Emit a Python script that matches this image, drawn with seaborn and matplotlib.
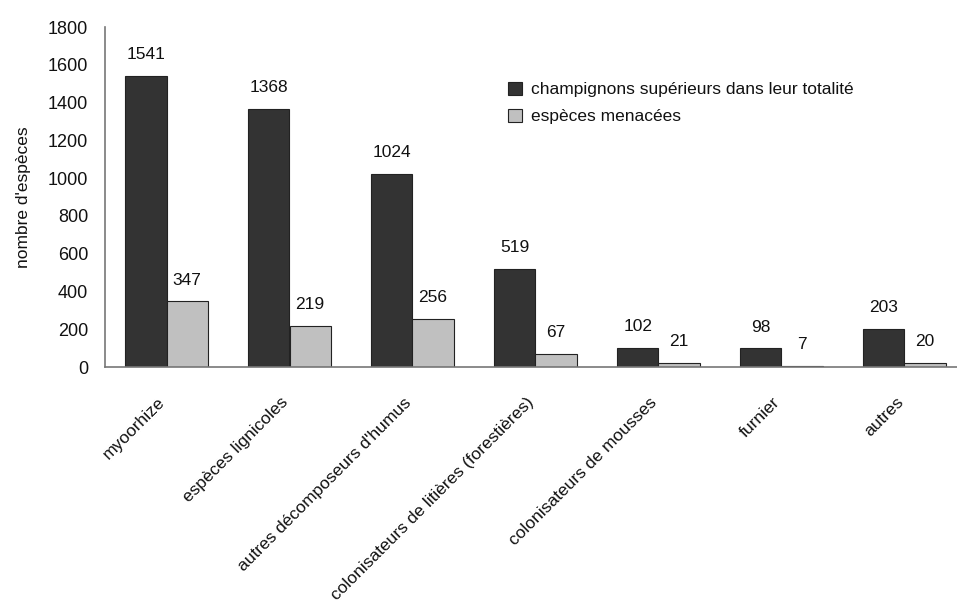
import matplotlib
matplotlib.use("Agg")
import matplotlib.pyplot as plt
import matplotlib.transforms as mtransforms
import seaborn as sns
import pandas as pd

categories = [
    "myoorhize",
    "espèces lignicoles",
    "autres décomposeurs d'humus",
    "colonisateurs de litières (forestières)",
    "colonisateurs de mousses",
    "furnier",
    "autres",
]
total_species = [1541, 1368, 1024, 519, 102, 98, 203]
threatened_species = [347, 219, 256, 67, 21, 7, 20]
series_names = ["champignons supérieurs dans leur totalité", "espèces menacées"]
y_ticks = [0, 200, 400, 600, 800, 1000, 1200, 1400, 1600, 1800]

sns.set_theme(style="white")
plt.rcParams["font.family"] = ["Liberation Sans", "DejaVu Sans"]

df = pd.DataFrame({
    "catégorie": categories * 2,
    "série": [series_names[0]] * len(categories) + [series_names[1]] * len(categories),
    "valeur": total_species + threatened_species,
})

fig = plt.figure(figsize=(9.57, 6.0), dpi=100)
ax = fig.add_axes([105 / 957, 233 / 600, 861 / 957, 340 / 600])

palette = {series_names[0]: "#333333", series_names[1]: "#c0c0c0"}
sns.barplot(
    data=df, x="catégorie", y="valeur", hue="série", order=categories,
    hue_order=series_names, palette=palette, width=0.667, saturation=1,
    edgecolor="#222222", linewidth=0.8, ax=ax,
)

for container in ax.containers:
    ax.bar_label(container, fmt="%d", padding=10, fontsize=12.5, color="#111111")

ax.set_xlim(-0.5, len(categories) - 0.5)
ax.set_ylim(0, 1800)
ax.set_yticks(y_ticks)
ax.set_yticklabels([str(t) for t in y_ticks], fontsize=13, color="#111111")
ax.set_xlabel("")
ax.set_ylabel("nombre d'espèces", fontsize=12.5, color="#111111", labelpad=12)
ax.tick_params(axis="both", length=0)
ax.tick_params(axis="y", pad=12)
ax.set_xticks(range(len(categories)))
ax.set_xticklabels(categories, rotation=45, ha="right", rotation_mode="anchor",
                   fontsize=12.5, color="#111111")
ax.tick_params(axis="x", pad=20)
shift = mtransforms.ScaledTranslation(-9 / 100, 0, fig.dpi_scale_trans)
for lbl in ax.get_xticklabels():
    lbl.set_transform(lbl.get_transform() + shift)

for side in ["top", "right"]:
    ax.spines[side].set_visible(False)
for side in ["left", "bottom"]:
    ax.spines[side].set_color("#777777")
    ax.spines[side].set_linewidth(1.2)

leg = ax.legend(loc="upper left", bbox_to_anchor=(0.45, 0.885), frameon=False,
                fontsize=12.5, handlelength=0.8, handleheight=0.8,
                handletextpad=0.5, labelspacing=0.65)
for t in leg.get_texts():
    t.set_color("#111111")

fig.savefig("out.png", dpi=100)
